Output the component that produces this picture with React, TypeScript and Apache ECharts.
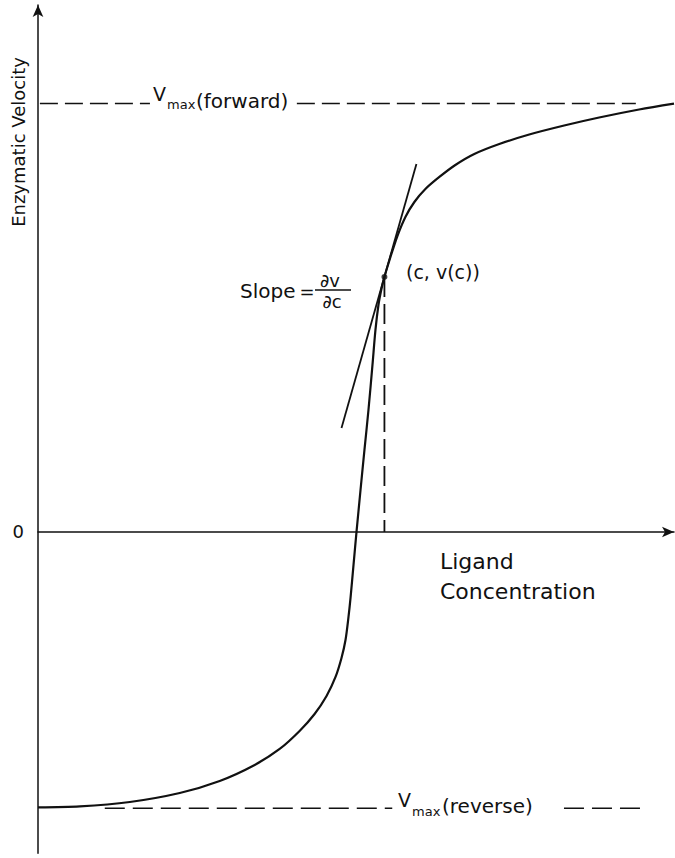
import React, { useEffect, useRef } from "react";
import * as echarts from "echarts";

// Data (x: ligand concentration, arbitrary 0-100; y: velocity, Vmax(forward)=100)
const curveX = [0, 6.59, 14.44, 22.29, 28.57, 34.07, 38.0, 41.13, 43.49, 45.37, 46.78, 47.72, 48.35, 48.82, 49.14, 49.61, 50.08, 50.71, 51.33, 51.96, 52.59, 53.06, 53.53, 54.0, 54.47, 55.42, 56.51, 57.77, 59.18, 60.91, 63.11, 65.62, 68.6, 72.53, 77.24, 82.73, 88.23, 94.51, 100];
const curveY = [-64.3, -64.07, -63.02, -60.92, -58.12, -54.38, -50.65, -46.45, -42.48, -38.28, -33.84, -29.41, -25.21, -19.84, -15.4, -7.7, 0, 9.8, 19.14, 28.47, 38.98, 47.15, 52.98, 56.71, 59.52, 64.18, 69.08, 73.52, 77.02, 80.05, 82.86, 85.65, 88.22, 90.55, 92.77, 94.87, 96.74, 98.61, 100];
const vmaxForward = 100;
const vmaxReverse = -64.5;
const pointC = [54.47, 59.52];
const tangentX = [47.72, 59.5];
const tangentY = [24.27, 85.89];
const forwardDashX = [[0.3, 17.6], [40.7, 94.0]];
const reverseDashX = [[10.5, 55.7], [82.7, 95.3]];
const xRange = [0, 100];
const yRange = [-75, 123];
const yTickLabels = [0];

const FONT = "'DejaVu Sans', sans-serif";

export default function App() {
  const ref = useRef<HTMLDivElement>(null);
  useEffect(() => {
    document.body.style.margin = "0";
    const chart = echarts.init(ref.current!, null, { renderer: "svg" });
    const black = "#111";
    const seg = (xs: number[], y: number, dash: number[]) => ({
      type: "line",
      data: [[xs[0], y], [xs[1], y]],
      symbol: "none",
      lineStyle: { color: black, width: 1.6, type: dash },
      silent: true,
    });
    const txt = (text: string, x: number, y: number, size: number, align = "left", extra: any = {}) => ({
      type: "text",
      x,
      y,
      ...extra,
      style: {
        text,
        fill: black,
        font: `${size}px ${FONT}`,
        textAlign: align,
        textVerticalAlign: "middle",
      },
    });
    chart.setOption({
      animation: false,
      backgroundColor: "#fff",
      grid: { left: 38, right: 1, top: 5, bottom: 4.7 },
      xAxis: {
        type: "value",
        min: xRange[0],
        max: xRange[1],
        splitLine: { show: false },
        axisTick: { show: false },
        axisLabel: { show: false },
        axisLine: {
          onZero: true,
          lineStyle: { color: black, width: 1.5 },
          symbol: ["none", "arrow"],
          symbolSize: [8, 12],
        },
      },
      yAxis: {
        type: "value",
        min: yRange[0],
        max: yRange[1],
        splitLine: { show: false },
        axisTick: { show: false },
        axisLabel: {
          show: true,
          customValues: yTickLabels,
          color: black,
          fontSize: 18,
          fontFamily: FONT,
          margin: 14,
          formatter: (v: number) => (v === 0 ? "0" : ""),
        },
        axisLine: {
          onZero: false,
          lineStyle: { color: black, width: 1.5 },
          symbol: ["none", "arrow"],
          symbolSize: [8, 12],
        },
      },
      series: [
        {
          type: "line",
          data: curveX.map((x, i) => [x, curveY[i]]),
          symbol: "none",
          smooth: 0.3,
          lineStyle: { color: black, width: 2.2 },
        },
        {
          type: "line",
          data: tangentX.map((x, i) => [x, tangentY[i]]),
          symbol: "none",
          lineStyle: { color: black, width: 1.8 },
        },
        {
          type: "line",
          data: [[pointC[0], pointC[1]], [pointC[0], 0]],
          symbol: "none",
          lineStyle: { color: black, width: 1.8, type: [20, 7] },
        },
        ...forwardDashX.map((xs) => seg(xs, vmaxForward, [18, 7])),
        ...reverseDashX.map((xs) => seg(xs, vmaxReverse, [20, 8])),
        {
          type: "scatter",
          data: [pointC],
          symbolSize: 6,
          itemStyle: { color: black },
        },
      ],
      graphic: [
        txt("Enzymatic Velocity", 18, 142, 18, "center", { rotation: Math.PI / 2 }),
        txt("V", 153, 94, 19),
        txt("max", 167, 104, 13),
        txt("(forward)", 196, 101, 20),
        txt("V", 398, 800, 19),
        txt("max", 412, 811, 13),
        txt("(reverse)", 442, 806, 20),
        txt("Slope", 240, 291, 20),
        txt("=", 307, 291, 18, "center"),
        txt("∂v", 330, 280, 18, "center"),
        {
          type: "line",
          shape: { x1: 315, y1: 290, x2: 351, y2: 290 },
          style: { stroke: black, lineWidth: 1.5 },
        },
        txt("∂c", 332, 301, 18, "center"),
        txt("(c, v(c))", 406, 272, 19),
        txt("Ligand", 440, 561, 22),
        txt("Concentration", 440, 591, 22),
      ],
    });
    return () => chart.dispose();
  }, []);
  return <div ref={ref} style={{ width: 675, height: 858 }} />;
}
